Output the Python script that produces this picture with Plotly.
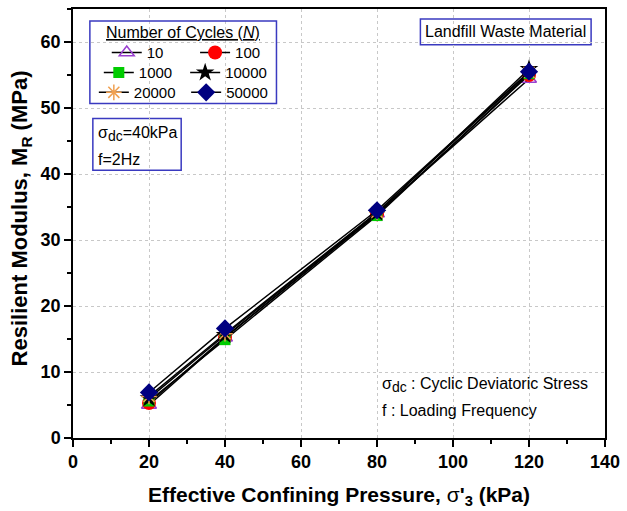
import plotly.graph_objects as go

pressure = [20, 40, 80, 120]
cycles = ["10", "100", "1000", "10000", "20000", "50000"]
mr_10 = [5.0, 15.2, 34.0, 54.4]
mr_100 = [5.3, 15.3, 33.9, 55.0]
mr_1000 = [5.6, 14.9, 33.7, 55.2]
mr_10000 = [6.0, 15.6, 34.1, 55.9]
mr_20000 = [6.3, 15.8, 34.2, 55.4]
mr_50000 = [6.9, 16.6, 34.5, 55.5]
series = [mr_10, mr_100, mr_1000, mr_10000, mr_20000, mr_50000]

W, H = 627, 511
L, R, T, B = 73, 18, 7, 73
pw, ph = W - L - R, H - T - B

def px(x):
    return (x - L) / pw

def py(y):
    return 1 - (y - T) / ph

# legend placement (pixel col x, row y)
leg_pos = [(107, 51), (196, 51), (99, 71), (186, 71), (94, 91), (187, 91)]

styles = [
    dict(symbol="triangle-up-open", color="#9a3fd0", size=13, lw=1.5),
    dict(symbol="circle", color="#ff0000", size=14, lw=0),
    dict(symbol="square", color="#00cc00", size=11, lw=0),
    dict(symbol="star", color="#000000", size=14, lw=0),
    dict(symbol="asterisk-open", color="#f0a050", size=13, lw=1.5),
    dict(symbol="diamond", color="#000080", size=14, lw=0),
]

FONT = "Arial, Liberation Sans, sans-serif"
fig = go.Figure()
legend_layouts = {}
for i, (name, vals, st) in enumerate(zip(cycles, series, styles)):
    lname = f"legend{i + 2}"
    fig.add_trace(go.Scatter(
        x=pressure, y=vals, name=name, mode="lines+markers",
        line=dict(color="black", width=1.5),
        marker=dict(symbol=st["symbol"], color=st["color"], size=st["size"],
                    line=dict(color=st["color"], width=st["lw"])),
        legend=lname, showlegend=True,
    ))
    lx, ly = leg_pos[i]
    legend_layouts[lname] = dict(
        x=px(lx), y=py(ly), xanchor="left", yanchor="middle",
        bgcolor="rgba(0,0,0,0)", borderwidth=0, visible=True,
        font=dict(family=FONT, size=15, color="black"), itemwidth=30,
    )

tick_font = dict(family=FONT, size=18, color="black", weight="bold")
fig.update_layout(
    width=W, height=H,
    margin=dict(l=L, r=R, t=T, b=B),
    plot_bgcolor="white", paper_bgcolor="white",
    font=dict(family=FONT, color="black"),
    showlegend=True,
    xaxis=dict(
        range=[0, 140], dtick=20, tick0=0, showline=True, linecolor="black", linewidth=1.5,
        mirror=True, ticks="outside", ticklen=7, tickwidth=1.5, tickcolor="black",
        minor=dict(ticks="outside", ticklen=4, tickwidth=1.5, tickcolor="black", dtick=10, showgrid=False),
        showgrid=True, gridcolor="#c8c8c8", griddash="dot", gridwidth=1,
        tickfont=tick_font,
        title=dict(text="Effective Confining Pressure, <span style=\"font-weight:normal\">σ</span>'<sub>3</sub> (kPa)",
                   font=dict(family=FONT, size=21, color="black", weight="bold"), standoff=16),
        zeroline=False,
    ),
    yaxis=dict(
        range=[0, 65], dtick=10, tick0=0, showline=True, linecolor="black", linewidth=1.5,
        mirror=True, ticks="outside", ticklen=7, tickwidth=1.5, tickcolor="black",
        minor=dict(ticks="outside", ticklen=4, tickwidth=1.5, tickcolor="black", dtick=5, showgrid=False),
        showgrid=True, gridcolor="#c8c8c8", griddash="dot", gridwidth=1,
        tickfont=tick_font,
        zeroline=False,
    ),
    **legend_layouts,
)

# y-axis title as a rotated annotation for exact placement
fig.add_annotation(xref="paper", yref="paper", x=px(21), y=py(217), showarrow=False,
                   text="Resilient Modulus, M<sub>R</sub> (MPa)", textangle=-90,
                   font=dict(family=FONT, size=22, color="black", weight="bold"),
                   xanchor="center", yanchor="middle")

box_line = dict(color="#3a3ac0", width=1.5)
fig.add_shape(type="rect", xref="paper", yref="paper", x0=px(90), x1=px(278), y0=py(102), y1=py(19),
              line=box_line, fillcolor="rgba(0,0,0,0)", layer="above")
fig.add_shape(type="rect", xref="paper", yref="paper", x0=px(423), x1=px(595), y0=py(43), y1=py(17),
              line=box_line, fillcolor="white", layer="below")
fig.add_shape(type="rect", xref="paper", yref="paper", x0=px(93), x1=px(182), y0=py(169), y1=py(117),
              line=box_line, fillcolor="white", layer="below")

ann_font = dict(family=FONT, size=16, color="black")
sub_dc = "σ<sub><span style=\"font-size:14px\">dc</span></sub>"
fig.add_annotation(xref="paper", yref="paper", x=px(184), y=py(31), showarrow=False,
                   text="<u>Number of Cycles (<i>N</i>)</u>", font=ann_font, xanchor="center", yanchor="middle")
fig.add_annotation(xref="paper", yref="paper", x=px(509), y=py(30), showarrow=False,
                   text="Landfill Waste Material", font=ann_font, xanchor="center", yanchor="middle")
fig.add_annotation(xref="paper", yref="paper", x=px(96), y=py(133), showarrow=False,
                   text=sub_dc + "=40kPa", font=ann_font, xanchor="left", yanchor="middle")
fig.add_annotation(xref="paper", yref="paper", x=px(96), y=py(158), showarrow=False,
                   text="f=2Hz", font=ann_font, xanchor="left", yanchor="middle")
fig.add_annotation(xref="paper", yref="paper", x=px(382), y=py(385), showarrow=False,
                   text=sub_dc + " : Cyclic Deviatoric Stress", font=ann_font, xanchor="left", yanchor="middle")
fig.add_annotation(xref="paper", yref="paper", x=px(382), y=py(410), showarrow=False,
                   text="f : Loading Frequency", font=ann_font, xanchor="left", yanchor="middle")

fig.write_html("out.html")
